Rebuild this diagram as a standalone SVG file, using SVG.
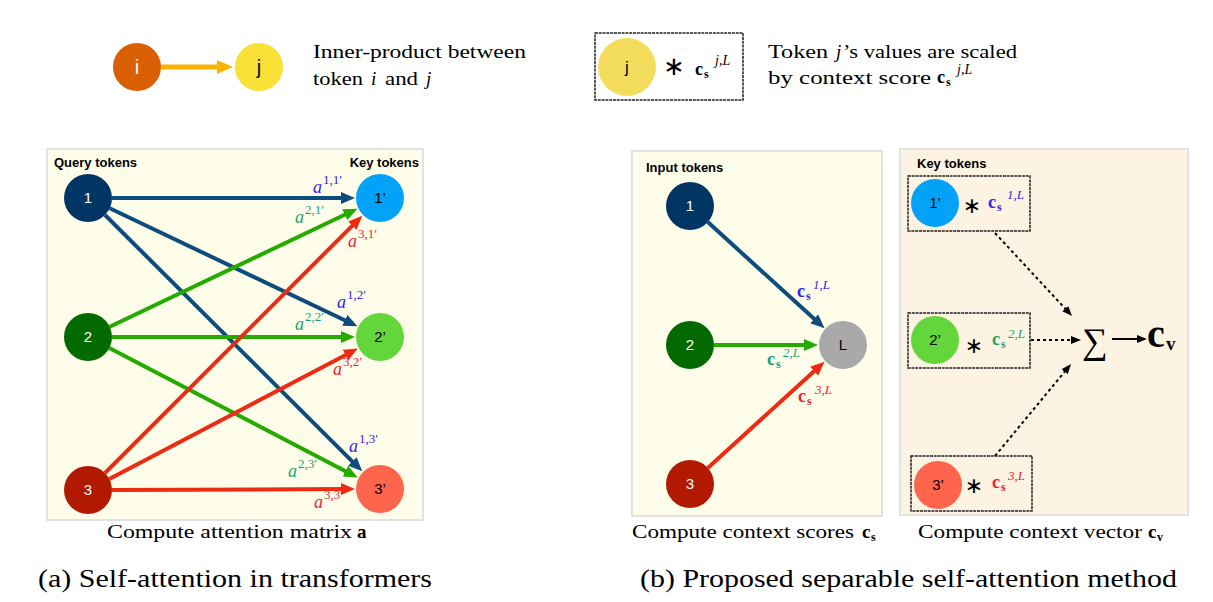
<svg xmlns="http://www.w3.org/2000/svg" width="1213" height="602" viewBox="0 0 1213 602">
<style>
.bg{fill:#ffffff}
.panel{stroke:#e2e2e2;stroke-width:2}
.pY{fill:#fefdea}
.pO{fill:#fdf3e3}
.nl{font-family:"Liberation Sans",Arial,sans-serif;font-size:15px;text-anchor:middle}
.w{fill:#ffffff}
.k{fill:#000000}
.hdr{font-family:"Liberation Sans",Arial,sans-serif;font-size:13px;font-weight:bold;fill:#000}
.ser{font-family:"Liberation Serif","Times New Roman",serif;fill:#000}
.cap{font-size:19px}
.big{font-size:25px}
.it{font-style:italic}
.b{font-weight:bold}
.lab{font-family:"Liberation Serif","Times New Roman",serif;font-style:italic;font-size:18px}
.sup{font-family:"Liberation Serif","Times New Roman",serif;font-size:13px}
.cs{font-family:"Liberation Serif","Times New Roman",serif;font-weight:bold;font-size:18px}
.csub{font-family:"Liberation Serif","Times New Roman",serif;font-weight:bold;font-size:12px}
.blue{fill:#3322ee}
.teal{fill:#1fa070}
.red{fill:#ee2233}
.eB{stroke:#0d4c7c;stroke-width:4;fill:none}
.eG{stroke:#25ab00;stroke-width:4;fill:none}
.eR{stroke:#ee2a12;stroke-width:4;fill:none}
.dot{stroke:#000;stroke-width:2;stroke-dasharray:3,3;fill:none}
.box{fill:none;stroke:#222;stroke-width:1.5;stroke-dasharray:3,0.8}
.ast{font-family:"DejaVu Sans","Liberation Serif",serif;font-size:22px;fill:#000;text-anchor:middle}
</style>
<defs>
<marker id="mB" markerUnits="userSpaceOnUse" markerWidth="14" markerHeight="12" refX="4" refY="6" orient="auto"><path d="M0,0 L14,6 L0,12 z" fill="#0d4c7c"/></marker>
<marker id="mG" markerUnits="userSpaceOnUse" markerWidth="14" markerHeight="12" refX="4" refY="6" orient="auto"><path d="M0,0 L14,6 L0,12 z" fill="#25ab00"/></marker>
<marker id="mR" markerUnits="userSpaceOnUse" markerWidth="14" markerHeight="12" refX="4" refY="6" orient="auto"><path d="M0,0 L14,6 L0,12 z" fill="#ee2a12"/></marker>
<marker id="mY" markerUnits="userSpaceOnUse" markerWidth="16" markerHeight="14" refX="4" refY="7" orient="auto"><path d="M0,0 L16,7 L0,14 z" fill="#f7b500"/></marker>
<marker id="mK" markerUnits="userSpaceOnUse" markerWidth="10" markerHeight="8" refX="2" refY="4" orient="auto"><path d="M0,0 L10,4 L0,8 z" fill="#000"/></marker>
</defs>
<rect class="bg" x="0" y="0" width="1213" height="602"/>

<!-- Legend -->
<g id="legend-inner-product">
<line x1="161" y1="67" x2="221" y2="67" stroke="#f7b500" stroke-width="5" marker-end="url(#mY)"/>
<circle cx="137" cy="67" r="24" fill="#d95f02"/>
<text class="nl w" x="137" y="74" style="font-size:20px">i</text>
<circle cx="259" cy="67" r="24" fill="#f8e036"/>
<text class="nl k" x="259" y="74" style="font-size:20px">j</text>
<text class="ser cap" x="313" y="58" textLength="213" lengthAdjust="spacingAndGlyphs">Inner-product between</text>
<text class="ser cap" x="313" y="85" textLength="50" lengthAdjust="spacingAndGlyphs">token</text>
<text class="ser cap it" x="371" y="85">i</text>
<text class="ser cap" x="385" y="85" textLength="33" lengthAdjust="spacingAndGlyphs">and</text>
<text class="ser cap it" x="426" y="85">j</text>
</g>

<g id="legend-scaled">
<rect class="box" x="595" y="33" width="148" height="67"/>
<circle cx="627" cy="67" r="29" fill="#f4dd5c"/>
<text class="nl k" x="627" y="73" style="font-size:17px">j</text>
<text class="ast" x="674" y="75" style="font-size:26px">∗</text>
<text class="cs" x="695" y="75">c</text>
<text class="csub" x="704" y="78">s</text>
<text class="sup it" x="715" y="65" style="font-size:14px">j,L</text>
<text class="ser cap" x="768" y="58" textLength="60" lengthAdjust="spacingAndGlyphs">Token</text>
<text class="ser cap it" x="836" y="58">j</text>
<text class="ser cap" x="843" y="58" textLength="174" lengthAdjust="spacingAndGlyphs">’s values are scaled</text>
<text class="ser cap" x="768" y="84" textLength="163" lengthAdjust="spacingAndGlyphs">by context score</text>
<text class="cs" x="937" y="83">c</text>
<text class="csub" x="946" y="86">s</text>
<text class="sup it" x="957" y="74" style="font-size:14px">j,L</text>
</g>

<!-- Panels -->
<g id="panel-a">
<rect class="panel pY" x="47" y="149" width="376" height="371"/>
<text class="hdr" x="54" y="167">Query tokens</text>
<text class="hdr" x="419" y="167" text-anchor="end">Key tokens</text>
<text class="ser cap" x="107" y="538" textLength="245" lengthAdjust="spacingAndGlyphs">Compute attention matrix</text>
<text class="ser cap b" x="357" y="538">a</text>
<text class="ser big" x="38" y="587" textLength="394" lengthAdjust="spacingAndGlyphs">(a) Self-attention in transformers</text>
</g>
<g id="panel-b-scores">
<rect class="panel pY" x="632" y="151" width="250" height="365"/>
<text class="hdr" x="646" y="172">Input tokens</text>
<text class="ser cap" x="632" y="538" textLength="222" lengthAdjust="spacingAndGlyphs">Compute context scores</text>
<text class="cs" x="862" y="538" style="font-size:19px">c</text>
<text class="csub" x="871" y="541">s</text>
</g>
<g id="panel-b-vector">
<rect class="panel pO" x="900" y="149" width="288" height="366"/>
<text class="hdr" x="917" y="168">Key tokens</text>
<text class="ser cap" x="918" y="538" textLength="224" lengthAdjust="spacingAndGlyphs">Compute context vector</text>
<text class="cs" x="1148" y="538" style="font-size:19px">c</text>
<text class="csub" x="1157" y="541">v</text>
<text class="ser big" x="640" y="587" textLength="537" lengthAdjust="spacingAndGlyphs">(b) Proposed separable self-attention method</text>
</g>

<g id="connectors">
<path class="eB" d="M112,198 L345,198" marker-end="url(#mB)"/>
<path class="eB" d="M109.7,208.3 L348.4,322" marker-end="url(#mB)"/>
<path class="eB" d="M105,215 L355.2,464.3" marker-end="url(#mB)"/>
<path class="eG" d="M109.7,326.7 L348.4,213" marker-end="url(#mG)"/>
<path class="eG" d="M112,337 L345,337" marker-end="url(#mG)"/>
<path class="eG" d="M109.3,348.1 L348.9,472.9" marker-end="url(#mG)"/>
<path class="eR" d="M105,473 L355.2,222.8" marker-end="url(#mR)"/>
<path class="eR" d="M109.3,478.9 L349,353.2" marker-end="url(#mR)"/>
<path class="eR" d="M112,490 L345,489" marker-end="url(#mR)"/>

<path class="eB" d="M707.8,222.1 L817.1,321.5" marker-end="url(#mB)"/>
<path class="eG" d="M714,345 L808,345" marker-end="url(#mG)"/>
<path class="eR" d="M707.8,467.9 L817.1,368.5" marker-end="url(#mR)"/>

<path class="dot" d="M995,233 L1066.6,310.1" marker-end="url(#mK)"/>
<path class="dot" d="M1031,340 L1073,340" marker-end="url(#mK)"/>
<path class="dot" d="M995,456 L1065.9,370.2" marker-end="url(#mK)"/>
<path d="M1112,339 L1139,339" stroke="#000" stroke-width="2" marker-end="url(#mK)"/>
</g>

<g id="edge-labels-a">
<text class="lab blue" x="313" y="193">a</text><text class="sup blue" x="323" y="184">1,1′</text>
<text class="lab teal" x="295" y="223">a</text><text class="sup teal" x="305" y="214">2,1′</text>
<text class="lab red" x="348" y="247">a</text><text class="sup red" x="358" y="238">3,1′</text>
<text class="lab blue" x="337" y="308">a</text><text class="sup blue" x="347" y="299">1,2′</text>
<text class="lab teal" x="295" y="330">a</text><text class="sup teal" x="305" y="321">2,2′</text>
<text class="lab red" x="333" y="375">a</text><text class="sup red" x="343" y="366">3,2′</text>
<text class="lab blue" x="349" y="452">a</text><text class="sup blue" x="359" y="443">1,3′</text>
<text class="lab teal" x="288" y="477">a</text><text class="sup teal" x="298" y="468">2,3′</text>
<text class="lab red" x="314" y="508">a</text><text class="sup red" x="324" y="499">3,3′</text>
</g>

<g id="q1"><circle cx="88" cy="198" r="24" fill="#013664"/><text class="nl w" x="88" y="203">1</text></g>
<g id="q2"><circle cx="88" cy="337" r="24" fill="#036a00"/><text class="nl w" x="88" y="342">2</text></g>
<g id="q3"><circle cx="88" cy="490" r="24" fill="#b11a00"/><text class="nl w" x="88" y="495">3</text></g>
<g id="k1"><circle cx="380" cy="198" r="24" fill="#02a2f8"/><text class="nl k" x="380" y="203">1’</text></g>
<g id="k2"><circle cx="380" cy="337" r="24" fill="#63d63c"/><text class="nl k" x="380" y="342">2’</text></g>
<g id="k3"><circle cx="380" cy="489" r="24" fill="#ff644d"/><text class="nl k" x="380" y="494">3’</text></g>

<g id="i1"><circle cx="690" cy="206" r="24" fill="#013664"/><text class="nl w" x="690" y="211">1</text></g>
<g id="i2"><circle cx="690" cy="345" r="24" fill="#036a00"/><text class="nl w" x="690" y="350">2</text></g>
<g id="i3"><circle cx="690" cy="484" r="24" fill="#b11a00"/><text class="nl w" x="690" y="489">3</text></g>
<g id="nL"><circle cx="843" cy="345" r="24" fill="#a9a9a9"/><text class="nl k" x="843" y="350">L</text></g>
<g id="edge-labels-b">
<text class="cs blue" x="797" y="297">c</text><text class="csub blue" x="806" y="300">s</text><text class="sup it blue" x="813" y="289">1,L</text>
<text class="cs teal" x="767" y="365">c</text><text class="csub teal" x="776" y="368">s</text><text class="sup it teal" x="783" y="357">2,L</text>
<text class="cs red" x="798" y="402">c</text><text class="csub red" x="807" y="405">s</text><text class="sup it red" x="815" y="394">3,L</text>
</g>

<g id="kv1">
<rect class="box" x="908" y="176" width="122" height="55"/>
<circle cx="935" cy="203" r="24" fill="#02a2f8"/><text class="nl k" x="935" y="208">1’</text>
<text class="ast" x="972" y="213">∗</text>
<text class="cs blue" x="988" y="208">c</text><text class="csub blue" x="997" y="211">s</text><text class="sup it blue" x="1007" y="199">1,L</text>
</g>
<g id="kv2">
<rect class="box" x="908" y="313" width="122" height="55"/>
<circle cx="935" cy="340" r="24" fill="#63d63c"/><text class="nl k" x="935" y="345">2’</text>
<text class="ast" x="974" y="353">∗</text>
<text class="cs teal" x="992" y="345">c</text><text class="csub teal" x="1001" y="348">s</text><text class="sup it teal" x="1008" y="338">2,L</text>
</g>
<g id="kv3">
<rect class="box" x="911" y="456" width="121" height="55"/>
<circle cx="938" cy="485" r="24" fill="#ff644d"/><text class="nl k" x="938" y="490">3’</text>
<text class="ast" x="974" y="493">∗</text>
<text class="cs red" x="992" y="488">c</text><text class="csub red" x="1001" y="491">s</text><text class="sup it red" x="1008" y="480">3,L</text>
</g>
<g id="sum">
<text class="ser" x="1082" y="353" style="font-size:36px">∑</text>
<text class="ser b" x="1147" y="347" style="font-size:40px">c</text>
<text class="ser b" x="1166" y="350" style="font-size:19px">v</text>
</g>
</svg>
